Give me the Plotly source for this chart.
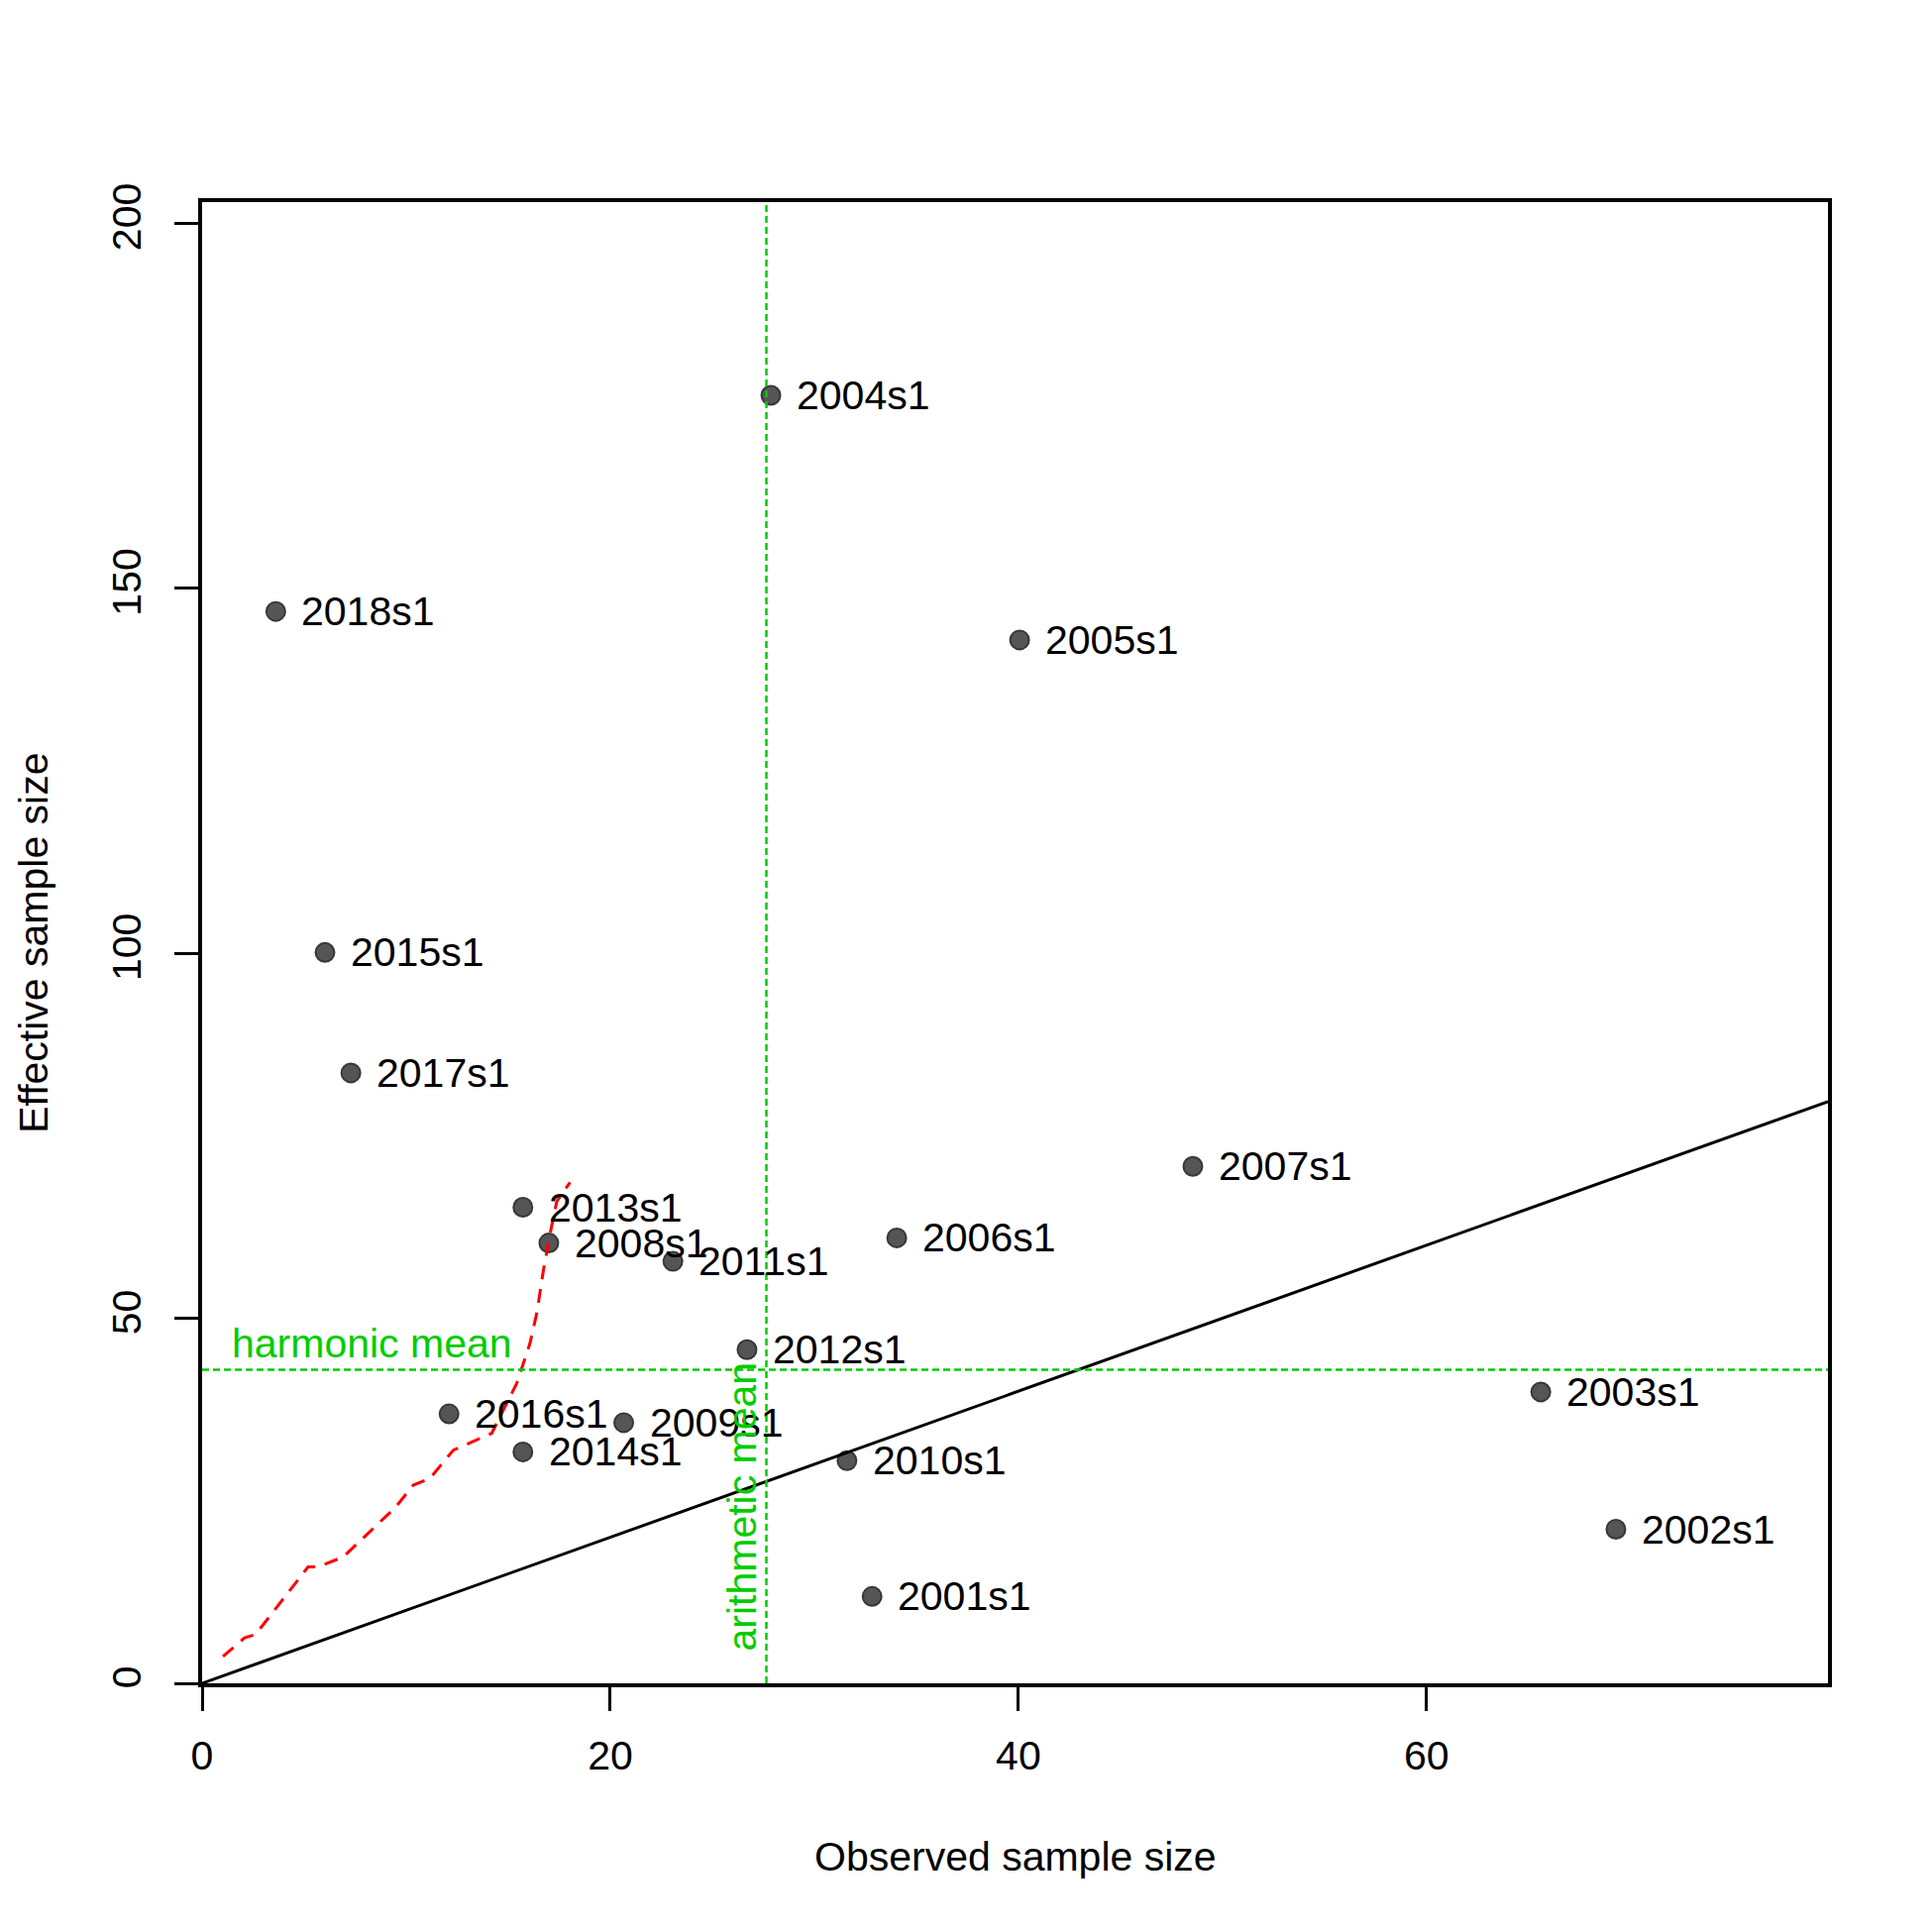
import numpy as np
import plotly.graph_objects as go

# samples: observed vs effective sample size
labels = ["2001s1", "2002s1", "2003s1", "2004s1", "2005s1", "2006s1",
          "2007s1", "2008s1", "2009s1", "2010s1", "2011s1", "2012s1",
          "2013s1", "2014s1", "2015s1", "2016s1", "2017s1", "2018s1"]
obs_n = [32.83, 69.28, 65.6, 27.87, 40.06, 34.04,
         48.55, 16.99, 20.66, 31.6, 23.07, 26.7,
         15.72, 15.72, 6.02, 12.1, 7.29, 3.61]
eff_n = [11.9, 21.1, 39.9, 176.4, 142.9, 61.0,
         70.8, 60.3, 35.7, 30.5, 57.8, 45.7,
         65.2, 31.7, 100.1, 36.9, 83.6, 146.8]

# red dashed trace
red_x = [1.02, 2.08, 2.62, 5.19, 5.68, 6.91, 9.50, 10.34, 11.16, 12.31,
         14.19, 15.42, 16.07, 16.40, 16.73, 17.06, 17.38, 18.03]
red_y = [3.67, 6.23, 6.69, 15.93, 15.93, 17.30, 24.17, 27.14, 28.06, 31.94,
         34.23, 41.09, 46.6, 50.7, 56.66, 61.7, 66.0, 68.6]

x_ticks = [0, 20, 40, 60]
y_ticks = [0, 50, 100, 150, 200]

arith_mean = float(np.mean(obs_n))
harm_mean = len(eff_n) / float(np.sum(1.0 / np.array(eff_n)))
x_max = max(obs_n) * 1.15
y_max = max(eff_n) * 1.15

FONT = "Liberation Sans"
FS = 41
GREEN = "#00CD00"

fig = go.Figure()
fig.add_trace(go.Scatter(x=obs_n, y=eff_n, mode="markers",
                         marker=dict(size=19, color="#555555",
                                     line=dict(color="#383838", width=2)),
                         hoverinfo="skip"))
fig.add_trace(go.Scatter(x=[0, x_max], y=[0, x_max], mode="lines",
                         line=dict(color="black", width=3), hoverinfo="skip"))
fig.add_trace(go.Scatter(x=red_x, y=red_y, mode="lines",
                         line=dict(color="#FF0000", width=3, dash="14px,10px"),
                         hoverinfo="skip"))

# mean lines
fig.add_shape(type="line", xref="x", yref="paper", x0=arith_mean, x1=arith_mean, y0=0, y1=1,
              line=dict(color=GREEN, width=2.5, dash="7px,4px"), layer="above")
fig.add_shape(type="line", xref="paper", yref="y", x0=0, x1=1, y0=harm_mean, y1=harm_mean,
              line=dict(color=GREEN, width=2.5, dash="7px,4px"), layer="above")

annotations = []
for lab, xv, yv in zip(labels, obs_n, eff_n):
    annotations.append(dict(x=xv, y=yv, text=lab, showarrow=False, xanchor="left",
                            yanchor="middle", xshift=24,
                            font=dict(family=FONT, size=FS, color="black")))
annotations.append(dict(x=0, y=harm_mean, text="harmonic mean", showarrow=False,
                        xanchor="left", yanchor="bottom", xshift=28, yshift=1,
                        font=dict(family=FONT, size=FS, color=GREEN)))
annotations.append(dict(x=arith_mean, y=0, text="arithmetic mean", showarrow=False,
                        textangle=-90, xanchor="right", yanchor="bottom", yshift=30,
                        font=dict(family=FONT, size=FS, color=GREEN)))
annotations.append(dict(x=0.5, y=-0.117, xref="paper", yref="paper",
                        text="Observed sample size", showarrow=False,
                        xanchor="center", yanchor="middle",
                        font=dict(family=FONT, size=FS, color="black")))
annotations.append(dict(x=-0.104, y=0.5, xref="paper", yref="paper",
                        text="Effective sample size", showarrow=False, textangle=-90,
                        xanchor="center", yanchor="middle",
                        font=dict(family=FONT, size=FS, color="black")))

axis_common = dict(showgrid=False, zeroline=False, showline=True, mirror=True,
                   linecolor="black", linewidth=3.5, ticks="outside", ticklen=24,
                   tickwidth=3, tickcolor="black",
                   tickfont=dict(family=FONT, size=FS, color="black"))

fig.update_layout(
    width=1950, height=1950, autosize=False,
    margin=dict(l=196, r=113, t=196, b=259),
    paper_bgcolor="white", plot_bgcolor="white",
    showlegend=False,
    xaxis=dict(range=[0, x_max], tickvals=x_ticks, ticklabelstandoff=10, **axis_common),
    yaxis=dict(range=[0, y_max], tickvals=y_ticks, tickangle=-90, ticklabelstandoff=18,
               **axis_common),
    annotations=annotations,
)

fig.write_html("out.html")
